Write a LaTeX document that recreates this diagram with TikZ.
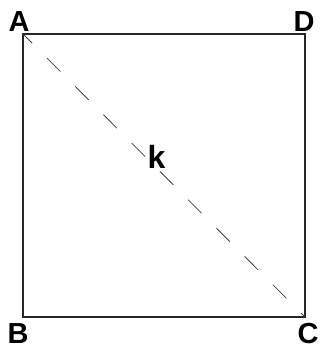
\documentclass[tikz,border=0pt]{standalone}
\usepackage{fontspec}
\setmainfont{Liberation Sans}
\begin{document}
\begin{tikzpicture}[x=1pt,y=-1pt,
  lbl/.style={font=\fontsize{29}{29}\selectfont\bfseries, inner sep=0pt, anchor=base, text depth=0pt},
  klbl/.style={font=\fontsize{32}{32}\selectfont\bfseries, inner sep=0pt, anchor=base},
  edge/.style={draw=black!85, line width=1.2pt},
  diag/.style={draw=black!75, line width=0.8pt, dash pattern=on 19pt off 21pt, dash phase=6pt}]
\useasboundingbox (0,0) rectangle (320,347);
\coordinate (a) at (23,34);
\coordinate (d) at (305,34);
\coordinate (b) at (23,317);
\coordinate (c) at (305,317);
\draw[edge] (a) -- (d) -- (c) -- (b) -- cycle;
\draw[diag] (a) -- (c);
\node[lbl] (la) at (19,32) {A};
\node[lbl] (ld) at (304,32) {D};
\node[lbl] (lb) at (18,343) {B};
\node[lbl] (lc) at (308,343) {C};
\node[klbl] (lk) at (156.5,168) {k};
\end{tikzpicture}
\end{document}
